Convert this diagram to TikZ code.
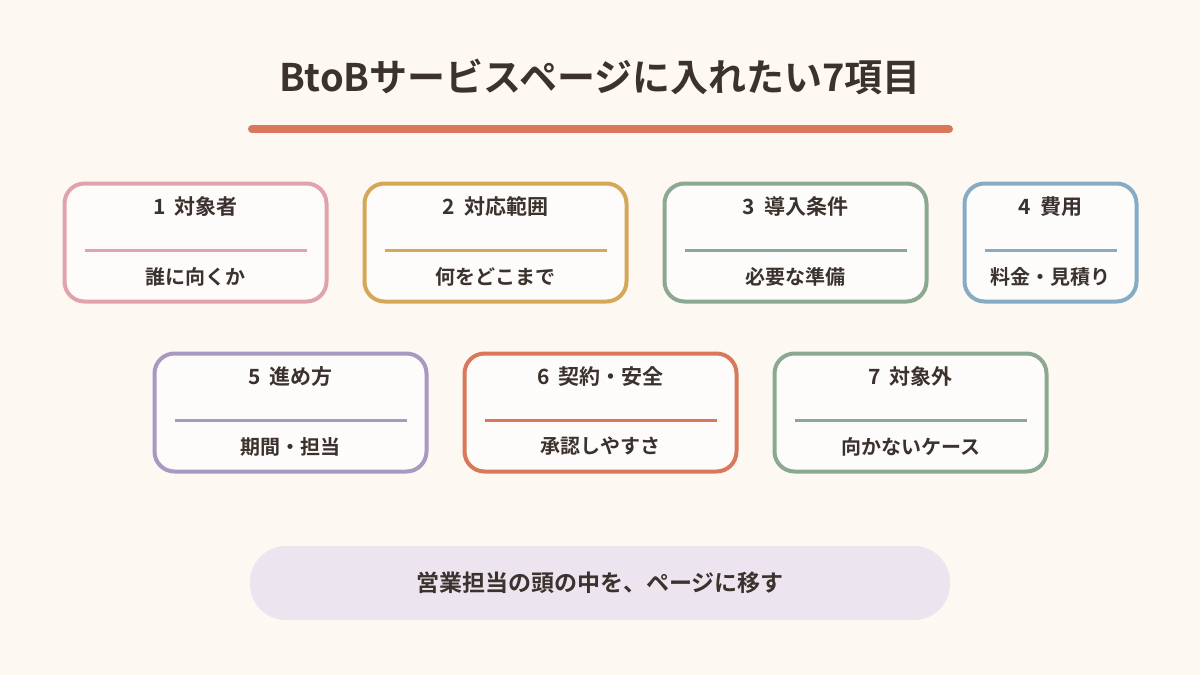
\documentclass[tikz,border=0pt]{standalone}
\usepackage{fontspec}
\setmainfont{Noto Sans CJK JP}[BoldFont={Noto Sans CJK JP Bold}]
\definecolor{bg}{HTML}{FDF8F2}
\definecolor{ink}{HTML}{3B322E}
\definecolor{cpink}{HTML}{E0A3AE}
\definecolor{cgold}{HTML}{D4A857}
\definecolor{cgreen}{HTML}{8BA990}
\definecolor{cblue}{HTML}{86ABC4}
\definecolor{cpurple}{HTML}{A899C2}
\definecolor{corange}{HTML}{D9785A}
\definecolor{cpill}{HTML}{ECE5EF}
\tikzset{
  card/.style={draw=#1, line width=2pt, fill=white!60!bg, rounded corners=10pt,
    minimum height=59pt},
  head/.style={text=ink, font=\bfseries\fontsize{10.5}{12}\selectfont},
  sub/.style={text=ink, font=\bfseries\fontsize{10}{12}\selectfont},
  rule/.style={draw=#1, line width=1.6pt}
}
\begin{document}
\begin{tikzpicture}[x=0.5pt, y=-0.5pt]
\fill[bg] (0,0) rectangle (1200,675);
\useasboundingbox (0,0) rectangle (1200,675);

\node[text=ink, font=\bfseries\fontsize{19}{22}\selectfont] (title) at (600,77) {BtoBサービスページに入れたい7項目};
\coordinate (ulA) at (252,129);
\coordinate (ulB) at (949,129);
\draw[corange, line width=4pt, line cap=round] (ulA) -- (ulB);

% row 1
\node[card=cpink, minimum width=131pt] (c1) at (195.5,242.5) {};
\node[card=cgold, minimum width=131pt] (c2) at (495.5,242.5) {};
\node[card=cgreen, minimum width=131pt] (c3) at (795.5,242.5) {};
\node[card=cblue, minimum width=86pt] (c4) at (1050.5,242.5) {};
% row 2
\node[card=cpurple, minimum width=136pt] (c5) at (290.5,412.5) {};
\node[card=corange, minimum width=136pt] (c6) at (600.5,412.5) {};
\node[card=cgreen, minimum width=136pt] (c7) at (910.5,412.5) {};

\node[head] (h1) at ([yshift=-12.5pt]c1.north) {1\ \ 対象者};
\node[head] (h2) at ([yshift=-12.5pt]c2.north) {2\ \ 対応範囲};
\node[head] (h3) at ([yshift=-12.5pt]c3.north) {3\ \ 導入条件};
\node[head] (h4) at ([yshift=-12.5pt]c4.north) {4\ \ 費用};
\node[head] (h5) at ([yshift=-12.5pt]c5.north) {5\ \ 進め方};
\node[head] (h6) at ([yshift=-12.5pt]c6.north) {6\ \ 契約・安全};
\node[head] (h7) at ([yshift=-12.5pt]c7.north) {7\ \ 対象外};

\node[sub] (s1) at ([yshift=13.5pt]c1.south) {誰に向くか};
\node[sub] (s2) at ([yshift=13.5pt]c2.south) {何をどこまで};
\node[sub] (s3) at ([yshift=13.5pt]c3.south) {必要な準備};
\node[sub] (s4) at ([yshift=13.5pt]c4.south) {料金・見積り};
\node[sub] (s5) at ([yshift=13.5pt]c5.south) {期間・担当};
\node[sub] (s6) at ([yshift=13.5pt]c6.south) {承認しやすさ};
\node[sub] (s7) at ([yshift=13.5pt]c7.south) {向かないケース};

\draw[rule=cpink] ([xshift=11pt,yshift=-4pt]c1.west) -- ([xshift=-11pt,yshift=-4pt]c1.east);
\draw[rule=cgold] ([xshift=11pt,yshift=-4pt]c2.west) -- ([xshift=-11pt,yshift=-4pt]c2.east);
\draw[rule=cgreen] ([xshift=11pt,yshift=-4pt]c3.west) -- ([xshift=-11pt,yshift=-4pt]c3.east);
\draw[rule=cblue] ([xshift=11pt,yshift=-4pt]c4.west) -- ([xshift=-11pt,yshift=-4pt]c4.east);
\draw[rule=cpurple] ([xshift=11pt,yshift=-4pt]c5.west) -- ([xshift=-11pt,yshift=-4pt]c5.east);
\draw[rule=corange] ([xshift=11pt,yshift=-4pt]c6.west) -- ([xshift=-11pt,yshift=-4pt]c6.east);
\draw[rule=cgreen] ([xshift=11pt,yshift=-4pt]c7.west) -- ([xshift=-11pt,yshift=-4pt]c7.east);

% bottom message
\node[fill=cpill, rounded corners=18pt, minimum width=350pt, minimum height=37pt,
  text=ink, font=\bfseries\fontsize{11.5}{14}\selectfont] (msg) at (600,583) {営業担当の頭の中を、ページに移す};
\end{tikzpicture}
\end{document}
